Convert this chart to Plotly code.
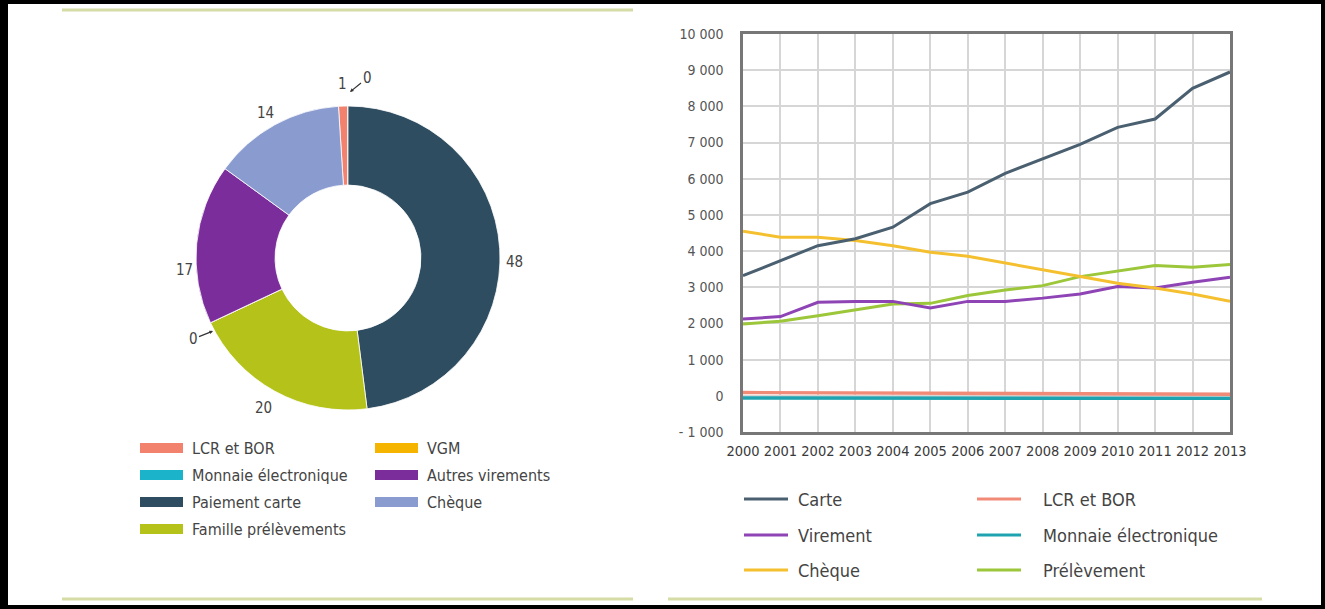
import plotly.graph_objects as go

W, H = 1325, 609

# ---- Répartition (%) des paiements scripturaux, par instrument ----
pie_labels = ["LCR et BOR", "Monnaie électronique", "Paiement carte",
              "Famille prélèvements", "VGM", "Autres virements", "Chèque"]
pie_values = [1, 0, 48, 20, 0, 17, 14]
pie_colors = ["#f2826e", "#1ab3c9", "#2f4d60", "#b5c21a", "#f5b400", "#7b2d9b", "#8a9bd0"]

# ---- Évolution 2000-2013 (millions d'opérations) ----
years = list(range(2000, 2014))
carte = [3320, 3740, 4150, 4340, 4660, 5310, 5630, 6150, 6550, 6950, 7420, 7650, 8500, 8950]
virement = [2120, 2190, 2585, 2610, 2610, 2430, 2610, 2610, 2700, 2815, 3020, 2980, 3140, 3280]
cheque = [4550, 4385, 4385, 4290, 4150, 3970, 3860, 3665, 3480, 3295, 3110, 2980, 2815, 2610]
lcr_bor = [90, 85, 85, 80, 80, 75, 70, 70, 65, 60, 55, 50, 50, 45]
monnaie = [-60, -60, -65, -65, -65, -70, -70, -70, -70, -70, -70, -70, -70, -70]
prelevement = [1985, 2060, 2215, 2370, 2540, 2555, 2770, 2925, 3045, 3295, 3445, 3600, 3555, 3630]

y_ticks = [-1000, 0, 1000, 2000, 3000, 4000, 5000, 6000, 7000, 8000, 9000, 10000]
y_ticktext = ["- 1 000", "0", "1 000", "2 000", "3 000", "4 000", "5 000",
              "6 000", "7 000", "8 000", "9 000", "10 000"]
x_ticktext = [str(y) for y in years]

line_series = [
    ("Monnaie électronique", monnaie, "#1fa3b0"),
    ("LCR et BOR", lcr_bor, "#f28a78"),
    ("Prélèvement", prelevement, "#9cc73a"),
    ("Virement", virement, "#8f44b5"),
    ("Chèque", cheque, "#f5c030"),
    ("Carte", carte, "#4a6070"),
]
legend_left = ["Carte", "Virement", "Chèque"]
legend_right = ["LCR et BOR", "Monnaie électronique", "Prélèvement"]

NARROW = "DejaVu Sans Condensed, Liberation Sans Narrow, sans-serif"
TEXT_COL = "#444444"


def px(x):
    return x / W


def py(y):
    return 1 - y / H


fig = go.Figure()

# Donut
total = sum(pie_values)
fig.add_trace(go.Pie(
    labels=pie_labels, values=pie_values, sort=False, direction="clockwise",
    rotation=-pie_values[0] / total * 360, hole=0.48,
    marker=dict(colors=pie_colors, line=dict(color="white", width=0.8)),
    textinfo="none", hoverinfo="label+value", showlegend=False,
    domain=dict(x=[px(196), px(500)], y=[py(410), py(106)]),
))

# Lines
for name, vals, col in line_series:
    w = 3.4 if name in ("Monnaie électronique", "LCR et BOR") else 3
    fig.add_trace(go.Scatter(x=years, y=vals, mode="lines", name=name,
                             line=dict(color=col, width=w), showlegend=False))

shapes = []
annotations = []


def text_ann(x, y, text, size, xanchor="center", color=TEXT_COL):
    return dict(x=px(x), y=py(y), xref="paper", yref="paper", text=text,
                showarrow=False, xanchor=xanchor, yanchor="middle",
                font=dict(family=NARROW, size=size, color=color))


# Donut value labels
label_pos = {
    "LCR et BOR": (342, 84),
    "Paiement carte": (514, 262),
    "Famille prélèvements": (263, 408),
    "Autres virements": (184, 270),
    "Chèque": (265, 113),
}
for lab, val in zip(pie_labels, pie_values):
    if lab in label_pos:
        x, y = label_pos[lab]
        annotations.append(text_ann(x, y, str(val), 15))

# leader-line labels for the empty slices
val_of = dict(zip(pie_labels, pie_values))
for lab, tip, off in [("Monnaie électronique", (350, 92), (17, -14)),
                      ("VGM", (213, 331), (-20, 8))]:
    annotations.append(dict(x=px(tip[0]), y=py(tip[1]), xref="paper", yref="paper",
                            text=str(val_of[lab]), showarrow=True,
                            ax=off[0], ay=off[1], arrowhead=2, arrowsize=0.6,
                            arrowwidth=1.2, arrowcolor="#333", standoff=0,
                            font=dict(family=NARROW, size=15, color=TEXT_COL)))

# Donut legend (two columns)
pie_leg_cols = [(140, 190, pie_labels[:4]), (375, 425, pie_labels[4:])]
rows_y = [448, 475, 502, 529]
for sx, tx, labs in pie_leg_cols:
    for lab, yy in zip(labs, rows_y):
        col = pie_colors[pie_labels.index(lab)]
        shapes.append(dict(type="rect", xref="paper", yref="paper",
                           x0=px(sx), x1=px(sx + 43), y0=py(yy + 5), y1=py(yy - 5),
                           fillcolor=col, line=dict(width=0)))
        annotations.append(text_ann(tx, yy, lab, 16, xanchor="left"))

# Line legend (two columns)
colors_by_name = {n: c for n, _, c in line_series}
line_rows = [499, 535, 570]
for lx, tx, names in [(744, 796, legend_left), (977, 1041, legend_right)]:
    for nm, yy in zip(names, line_rows):
        shapes.append(dict(type="line", xref="paper", yref="paper",
                           x0=px(lx), x1=px(lx + 44), y0=py(yy), y1=py(yy),
                           line=dict(color=colors_by_name[nm], width=2.8)))
        annotations.append(text_ann(tx, yy, nm, 18, xanchor="left"))

# Decorative rules
rule = "#d6dca6"
for x0, x1, yy in [(62, 633, 10), (62, 633, 599), (668, 1262, 599)]:
    shapes.append(dict(type="line", xref="paper", yref="paper",
                       x0=px(x0), x1=px(x1), y0=py(yy), y1=py(yy),
                       line=dict(color=rule, width=3)))

# Black frame around the page
for x0, y0, x1, y1 in [(0, 0, 8, H), (0, 0, W, 4), (W - 4, 0, W, H), (0, H - 4, W, H)]:
    shapes.append(dict(type="rect", xref="paper", yref="paper",
                       x0=px(x0), x1=px(x1), y0=py(y1), y1=py(y0),
                       fillcolor="black", line=dict(width=0)))

axis_common = dict(showgrid=True, gridcolor="#d6d6d6", gridwidth=1.5,
                   showline=True, mirror=True, linecolor="#777777", linewidth=2.5,
                   zeroline=False, ticks="", automargin=False)

fig.update_layout(
    width=W, height=H,
    margin=dict(l=0, r=0, t=0, b=0, pad=0, autoexpand=False),
    paper_bgcolor="white", plot_bgcolor="white",
    shapes=shapes, annotations=annotations, showlegend=False,
    xaxis=dict(domain=[px(743), px(1230)], range=[2000, 2013],
               tickvals=years, ticktext=x_ticktext, tickangle=0,
               ticklabelstandoff=4,
               tickfont=dict(family=NARROW, size=14.5, color="#3a3a3a"),
               **axis_common),
    yaxis=dict(domain=[py(432), py(34)], range=[-1000, 10000],
               tickvals=y_ticks, ticktext=y_ticktext, ticklabelstandoff=14,
               tickfont=dict(family=NARROW, size=14, color="#555555"),
               **axis_common),
)

fig.write_html("out.html")
